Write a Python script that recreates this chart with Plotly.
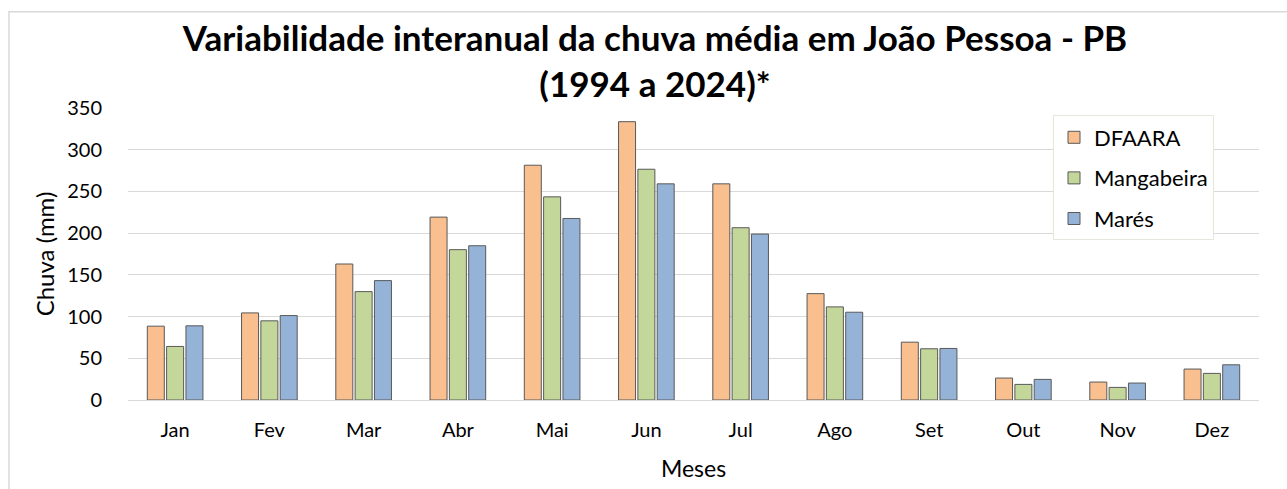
import plotly.graph_objects as go

meses = ["Jan", "Fev", "Mar", "Abr", "Mai", "Jun", "Jul", "Ago", "Set", "Out", "Nov", "Dez"]
dfaara = [88.5, 104.4, 163.0, 219.2, 281.4, 333.6, 259.1, 127.5, 69.3, 26.3, 21.5, 37.1]
mangabeira = [64.2, 94.9, 129.9, 180.2, 243.5, 276.6, 206.5, 111.6, 61.4, 18.7, 15.1, 31.9]
mares = [88.9, 101.2, 143.1, 184.9, 217.6, 259.1, 198.9, 105.2, 61.8, 24.7, 20.3, 42.2]

series = [("DFAARA", dfaara, "#F9BF8F"),
          ("Mangabeira", mangabeira, "#C4D79B"),
          ("Marés", mares, "#95B3D7")]

FONT = "Lato, 'Open Sans', sans-serif"

fig = go.Figure()
for name, vals, col in series:
    fig.add_trace(go.Bar(
        x=meses, y=vals, name=name, legendgroup=name,
        marker=dict(color=col, line=dict(color="#595959", width=1)),
    ))

# plot area: left 128, right 1259, top 107.5, bottom 400
W, H = 1287, 489
L, R, T, B = 128, 1259, 107.5, 400
pw, ph = R - L, B - T

def px_x(p):
    return (p - L) / pw

def px_y(p):
    return (B - p) / ph

fig.update_layout(
    width=W, height=H,
    margin=dict(l=L, r=W - R, t=T, b=H - B, autoexpand=False),
    paper_bgcolor="white", plot_bgcolor="white",
    font=dict(family=FONT, size=20, color="#000000"),
    barmode="group", bargap=0.385, bargroupgap=0.12,
    title=dict(
        text="<b>Variabilidade interanual da chuva média em João Pessoa - PB<br>(1994 a 2024)*</b>",
        x=655 / W, xanchor="center", xref="container",
        y=1 - 51 / H, yanchor="top", yref="container",
        font=dict(family=FONT, size=35, color="#000000"),
    ),
    legend=dict(
        x=px_x(1053), y=px_y(115), xanchor="left", yanchor="top",
        bgcolor="white", bordercolor="#E6E6DC", borderwidth=1,
        font=dict(family=FONT, size=22, color="#000000"),
        tracegroupgap=9, itemwidth=30,
    ),
    xaxis=dict(
        automargin=False,
        showline=True, linecolor="#D9D9D9", linewidth=1,
        showgrid=False, ticks="", ticklabelstandoff=12,
        tickfont=dict(family=FONT, size=20, color="#000000"),
        title=dict(text="Meses", standoff=20, font=dict(family=FONT, size=23, color="#000000")),
    ),
    yaxis=dict(
        automargin=False,
        range=[0, 350], dtick=50, showgrid=True, gridcolor="#D9D9D9", gridwidth=1,
        zeroline=False, showline=False, ticks="", ticklabelstandoff=25,
        tickfont=dict(family=FONT, size=20, color="#000000"),
        title=dict(text="Chuva (mm)", standoff=5, font=dict(family=FONT, size=24, color="#000000")),
    ),
    shapes=[dict(
        type="rect", xref="paper", yref="paper",
        x0=px_x(9), x1=px_x(1300), y0=px_y(500), y1=px_y(11),
        line=dict(color="#D9D9D9", width=1.5), fillcolor="rgba(0,0,0,0)", layer="below",
    )],
)

fig.write_html(
    "out.html",
    config={"displayModeBar": False},
    post_script="document.body.style.margin='0';document.body.style.overflow='hidden';",
)
